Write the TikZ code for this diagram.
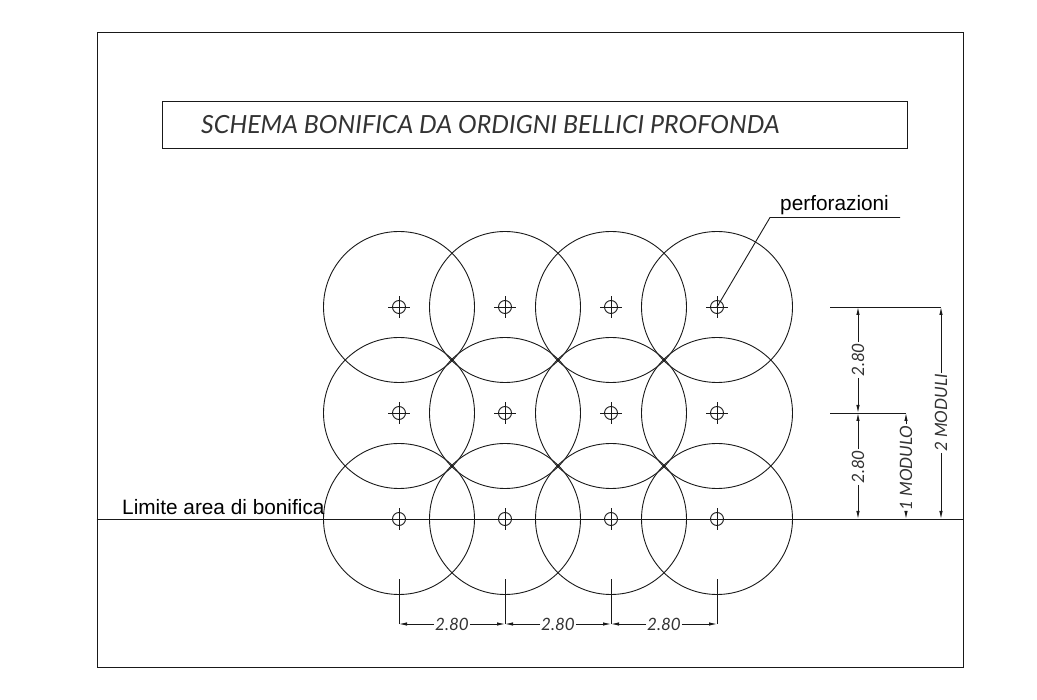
\documentclass[tikz,border=0pt]{standalone}
\usepackage{fontspec}
\setmainfont{Liberation Sans}
\newfontfamily\cadfont{Lato}
\usetikzlibrary{arrows.meta,positioning,calc}
\tikzset{
    line/.style={draw=black!90, line width=0.9pt},
    zone/.style={line, circle, minimum size=151pt, inner sep=0pt},
    hole/.style={line, circle, minimum size=13pt, inner sep=0pt},
    dim/.style={draw=black!90, line width=0.8pt, -{Latex[length=8pt,width=3.4pt]}},
    dimtext/.style={inner sep=1pt, text=black!80, font=\cadfont\itshape\fontsize{17}{17}\selectfont},
    label/.style={inner sep=0pt, font=\fontsize{20.8}{22}\selectfont}
}
\begin{document}
\begin{tikzpicture}[x=1pt,y=-1pt]
    \useasboundingbox (0,0) rectangle (1037,700);
    % frame and title
    \node[line, minimum width=866pt, minimum height=635pt, inner sep=0pt] (frame) at (530,349.5) {};
    \node[line, minimum width=745pt, minimum height=47pt, inner sep=0pt] (titlebox) at (534.5,124.5) {};
    \node[anchor=west, inner sep=0pt, text=black!80, font=\cadfont\itshape\fontsize{25}{27}\selectfont] (title) at (201,124.5) {SCHEMA BONIFICA DA ORDIGNI BELLICI PROFONDA};

    % circles and holes
    \foreach \r/\y in {1/307,2/413,3/519} {
        \foreach \c/\x in {1/399,2/505,3/611,4/717} {
            \node[zone] (z\r\c) at (\x,\y) {};
            \node[hole] (h\r\c) at (\x,\y) {};
            \draw[line] ([xshift=-11pt]h\r\c.center) -- ([xshift=11pt]h\r\c.center);
            \draw[line] ([yshift=-11pt]h\r\c.center) -- ([yshift=11pt]h\r\c.center);
        }
    }

    % limit line
    \draw[line] (frame.west |- h31) -- (frame.east |- h31);
    \node[label, anchor=west] (limit) at (122,507) {Limite area di bonifica};

    % leader
    \coordinate (bend) at (770,217.5);
    \coordinate (lend) at (900,217.5);
    \node[label, anchor=base west] (perf) at (780,210.5) {perforazioni};
    \draw[line] (h14.center) -- (bend) -- (lend);

    % bottom dimensions
    \foreach \c/\x in {1/399,2/505,3/611,4/717} {
        \coordinate (e\c) at (\x,579);
        \coordinate (b\c) at (\x,624);
        \draw[line] (e\c) -- (b\c);
    }
    \node[dimtext] (d1) at (452,624) {2.80};
    \node[dimtext] (d2) at (558,624) {2.80};
    \node[dimtext] (d3) at (664,624) {2.80};
    \draw[dim] (d1) -- (b1);
    \draw[dim] (d1) -- (b2);
    \draw[dim] (d2) -- (b2);
    \draw[dim] (d2) -- (b3);
    \draw[dim] (d3) -- (b3);
    \draw[dim] (d3) -- (b4);

    % right dimensions
    \coordinate (t0) at (830,307);
    \coordinate (t1) at (858,307);
    \coordinate (t2) at (941,307);
    \coordinate (m0) at (830,413);
    \coordinate (m1) at (858,413);
    \coordinate (m2) at (906,413);
    \coordinate (u1) at (858,519);
    \coordinate (u2) at (906,519);
    \coordinate (u3) at (941,519);
    \draw[line] (t0) -- (t2);
    \draw[line] (m0) -- (m2);
    \node[dimtext, rotate=90] (v1) at (858,360) {2.80};
    \node[dimtext, rotate=90] (v2) at (858,467) {2.80};
    \node[dimtext, rotate=90] (v3) at (906,468) {1 MODULO};
    \node[dimtext, rotate=90] (v4) at (941,413) {2 MODULI};
    \draw[dim] (v1) -- (t1);
    \draw[dim] (v1) -- (m1);
    \draw[dim] (v2) -- (m1);
    \draw[dim] (v2) -- (u1);
    \draw[dim] (v3) -- (m2);
    \draw[dim] (v3) -- (u2);
    \draw[dim] (v4) -- (t2);
    \draw[dim] (v4) -- (u3);
\end{tikzpicture}
\end{document}
